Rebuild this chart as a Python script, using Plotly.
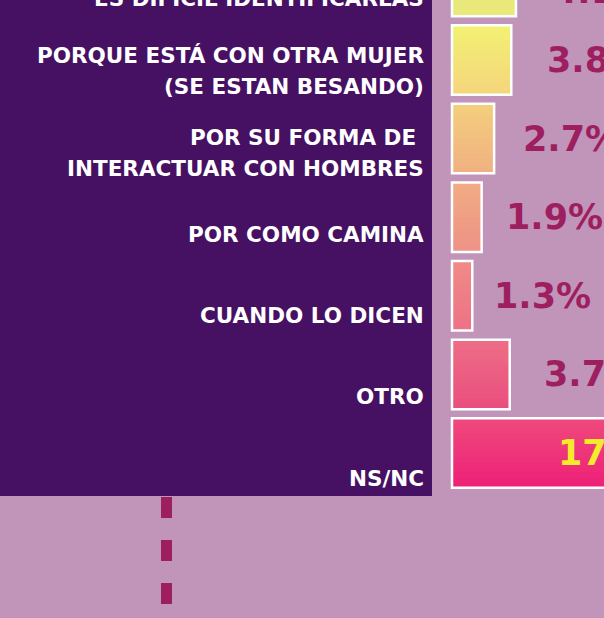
import plotly.graph_objects as go

# ---------------- data ----------------
categories = [
    "ES DIFICIL IDENTIFICARLAS",
    "PORQUE ESTÁ CON OTRA MUJER<br>(SE ESTAN BESANDO)",
    "POR SU FORMA DE\u00a0<br>INTERACTUAR CON HOMBRES",
    "POR COMO CAMINA",
    "CUANDO LO DICEN",
    "OTRO",
    "NS/NC",
]
values = [4.1, 3.8, 2.7, 1.9, 1.3, 3.7, 17]
value_labels = [f"{v:g}%" for v in values]

# ---------------- styling ----------------
BG = "#c195ba"
PANEL = "#461063"
VALUE_COLOR = "#9e1f60"
INSIDE_COLOR = "#f5ea2c"
FONT = "DejaVu Sans"
bar_top_colors = ["#e2e67c", "#f3f173", "#f4cf7d", "#f0ac84", "#ef8b86", "#ee6e86", "#ef4a7c"]
bar_bottom_colors = ["#ebe97a", "#f4d57c", "#f0b081", "#ee9286", "#ed7286", "#e94e7e", "#ed1f78"]

W, H = 604, 618
PX_PER_UNIT = 15.6
BASE_PX = 452
ROW_PITCH = 78.6
ROW1_CENTER = 60
LABEL_PITCH = 81.4
LABEL_ROW1_CENTER = 71.3
TOP_ROW_DROP = 9          # first (cut-off) row sits a little lower
BAR_H = 69.5 / ROW_PITCH
N_SLICES = 14


def hex2rgb(h):
    h = h.lstrip("#")
    return tuple(int(h[i:i + 2], 16) for i in (0, 2, 4))


def mix(c1, c2, t):
    a, b = hex2rgb(c1), hex2rgb(c2)
    return "rgb(%d,%d,%d)" % tuple(round(a[i] + (b[i] - a[i]) * t) for i in range(3))


rows = list(range(len(categories)))

fig = go.Figure()
for k in range(N_SLICES):
    t = (k + 0.5) / N_SLICES
    fig.add_trace(go.Bar(
        y=rows, x=values, orientation="h",
        width=BAR_H / N_SLICES * 1.15,
        offset=-BAR_H / 2 + k * BAR_H / N_SLICES,
        marker=dict(color=[mix(a, b, t) for a, b in zip(bar_top_colors, bar_bottom_colors)],
                    line=dict(width=0)),
        hoverinfo="skip", showlegend=False,
    ))
# white outline
fig.add_trace(go.Bar(
    y=rows, x=values, orientation="h", width=BAR_H,
    marker=dict(color="rgba(0,0,0,0)", line=dict(color="white", width=2.5)),
    hoverinfo="skip", showlegend=False,
))

x_max_units = (W - BASE_PX) / PX_PER_UNIT


def yidx(px, c1, pitch):
    return 1 + (px - c1) / pitch


def row_px(i, c1, pitch):
    return c1 + (i - 1) * pitch


annotations = []
# category labels
for i, lab in enumerate(categories):
    lines = lab.split("<br>")
    n = len(lines)
    cy = row_px(i, LABEL_ROW1_CENTER, LABEL_PITCH) + (TOP_ROW_DROP if i == 0 else 0)
    for k, line in enumerate(lines):
        py = cy + (k - (n - 1) / 2) * 31
        annotations.append(dict(
            x=425.5 / W, xref="paper", xanchor="right",
            y=1 - py / H, yref="paper", yanchor="middle",
            text=line, showarrow=False,
            font=dict(family=FONT, size=21.5, color="white", weight="bold"),
        ))

# value labels
for i, (v, t) in enumerate(zip(values, value_labels)):
    py = row_px(i, ROW1_CENTER, ROW_PITCH) + (TOP_ROW_DROP + 1 if i == 0 else 0)
    if v > x_max_units:
        annotations.append(dict(
            x=0, xref="x", xanchor="left", xshift=104,
            y=1 - py / H, yref="paper", yanchor="middle",
            text=t, showarrow=False,
            font=dict(family=FONT, size=35, color=INSIDE_COLOR, weight="bold"),
        ))
    else:
        annotations.append(dict(
            x=v, xref="x", xanchor="left", xshift=12 + 5.6 * v,
            y=1 - py / H, yref="paper", yanchor="middle",
            text=t, showarrow=False,
            font=dict(family=FONT, size=35, color=VALUE_COLOR, weight="bold"),
        ))

shapes = [
    dict(type="rect", xref="paper", yref="paper", layer="below",
         x0=-0.02, x1=432 / W, y0=1 - 496 / H, y1=1.02,
         fillcolor=PANEL, line=dict(width=0)),
    dict(type="line", xref="paper", yref="paper",
         x0=166.5 / W, x1=166.5 / W, y0=1 - 497 / H, y1=1 - 606 / H,
         line=dict(color=VALUE_COLOR, width=11, dash="21px,22px")),
]

fig.update_layout(
    width=W, height=H,
    margin=dict(l=0, r=0, t=0, b=0),
    paper_bgcolor=BG, plot_bgcolor=BG,
    barmode="overlay",
    xaxis=dict(range=[-BASE_PX / PX_PER_UNIT, x_max_units], visible=False, fixedrange=True),
    yaxis=dict(range=[yidx(H, ROW1_CENTER, ROW_PITCH), yidx(0, ROW1_CENTER, ROW_PITCH)],
               visible=False, fixedrange=True),
    annotations=annotations,
    shapes=shapes,
    showlegend=False,
)

fig.write_html(
    "out.html",
    config={"displayModeBar": False},
    post_script="document.body.style.margin='0';document.body.style.overflow='hidden';",
)
